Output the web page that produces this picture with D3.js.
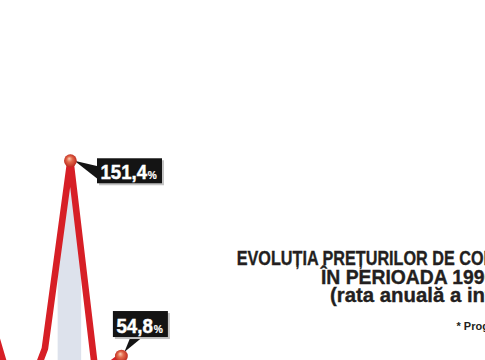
<!DOCTYPE html>
<html>
<head>
<meta charset="utf-8">
<script src="https://cdn.jsdelivr.net/npm/d3@7/dist/d3.min.js"></script>
<style>
  html, body { margin: 0; padding: 0; background: #ffffff; }
  svg { display: block; }
</style>
</head>
<body>
<svg id="chart" width="485" height="360"></svg>
<script>
// ---- data ----
const years  = [1994, 1995, 1996, 1997, 1998, 1999];
const values = [68, 25, 58.5, 151.4, 45, 54.8];          // annual inflation, %
const labelYears = [1997, 1999];
const labelTexts = ["151,4", "54,8"];
const highlightYear = 1997;
const titleLines = [
  "EVOLUȚIA PREȚURILOR DE CONSUM",
  "ÎN PERIOADA 1990-2005",
  "(rata anuală a inflației)"
];
const footnote = "* Prognoză";

// ---- layout ----
const W = 485, H = 360;
const svg = d3.select("#chart");

const x = d3.scaleLinear().domain([1994, 1999]).range([-6.1, 121.4]);
const y = d3.scaleLinear().domain([0, 150]).range([466.8, 163.6]);

const data = years.map((yr, i) => ({ year: yr, value: values[i] }));

const defs = svg.append("defs");
const grad = defs.append("radialGradient").attr("id", "dotGrad")
  .attr("cx", "50%").attr("cy", "50%").attr("r", "55%")
  .attr("fx", "40%").attr("fy", "32%");
grad.append("stop").attr("offset", "0%").attr("stop-color", "#f9cdb4");
grad.append("stop").attr("offset", "40%").attr("stop-color", "#e46a4c");
grad.append("stop").attr("offset", "100%").attr("stop-color", "#b82219");

// highlighted band under the line for 1997
const bandL = x(highlightYear - 0.5), bandR = x(highlightYear + 0.5);
defs.append("clipPath").attr("id", "bandClip")
  .append("rect").attr("x", bandL).attr("y", 0)
  .attr("width", bandR - bandL - 2).attr("height", H);

const area = d3.area().x(d => x(d.year)).y0(H + 50).y1(d => y(d.value));
svg.append("path").datum(data)
  .attr("d", area)
  .attr("fill", "#dde2ec")
  .attr("clip-path", "url(#bandClip)");

// the red line
const line = d3.line().x(d => x(d.year)).y(d => y(d.value));
svg.append("path").datum(data)
  .attr("d", line)
  .attr("fill", "none")
  .attr("stroke", "#d71f26")
  .attr("stroke-width", 6.6)
  .attr("stroke-linejoin", "round");

// label configs (offsets of box relative to point)
const labelCfg = [
  { dx: 26.6, dy: -2.5, w: 65, h: 25, pointer: "right", numW: 46.5 },
  { dx: -8.5, dy: -45, w: 55, h: 26, pointer: "below", numW: 36.5 }
];

labelYears.forEach((yr, i) => {
  const d = data.find(p => p.year === yr);
  const px = x(d.year), py = y(d.value);
  const c = labelCfg[i];
  const bx = px + c.dx, by = py + c.dy;
  const g = svg.append("g");

  // pointer
  let pts;
  if (c.pointer === "right") {
    pts = [[px + 4, py], [bx + 1, by + 8], [bx + 1, by + 21]];
  } else {
    pts = [[px + 3, py - 4], [bx + 18, by + c.h - 1], [bx + 31, by + c.h - 1]];
  }
  g.append("polygon").attr("points", pts.map(p => p.join(",")).join(" "))
    .attr("fill", "#141414");

  // shadow + box
  g.append("rect").attr("x", bx + 2).attr("y", by + 2)
    .attr("width", c.w).attr("height", c.h).attr("fill", "#c4c4c4");
  g.append("rect").attr("x", bx).attr("y", by)
    .attr("width", c.w).attr("height", c.h).attr("fill", "#141414");

  const t = g.append("text")
    .attr("x", 0).attr("y", 0)
    .attr("fill", "#ffffff")
    .attr("stroke", "#ffffff").attr("stroke-width", 0.5)
    .attr("font-family", "'Liberation Sans', Arial, sans-serif")
    .attr("font-weight", "bold");
  t.append("tspan").attr("font-size", 21).text(labelTexts[i]);
  t.append("tspan").attr("font-size", 11.5).attr("dx", 1).attr("stroke-width", 0.2).text("%");
  const nw = t.node().getSubStringLength(0, labelTexts[i].length);
  const s = c.numW / nw;
  t.attr("transform", `translate(${bx + 3.5},${by + c.h - 4.5}) scale(${s},1)`);

  // dot
  svg.append("circle").attr("cx", px).attr("cy", py).attr("r", 6.4)
    .attr("fill", "url(#dotGrad)");
});

// ---- title ----
const titleCfg = [
  { x: 236.7, y: 265, size: 20, prefix: 24, target: 234.5 },
  { x: 321,   y: 284, size: 19.5, prefix: 14, target: 153 },
  { x: 330,   y: 302, size: 20, prefix: 15, target: 137 }
];
titleLines.forEach((txt, i) => {
  const c = titleCfg[i];
  const t = svg.append("text")
    .attr("x", 0).attr("y", 0)
    .attr("fill", "#231f20")
    .attr("stroke", "#231f20").attr("stroke-width", 0.35)
    .attr("font-family", "'Liberation Sans', Arial, sans-serif")
    .attr("font-weight", "bold")
    .attr("font-size", c.size)
    .text(txt);
  const w = t.node().getSubStringLength(0, c.prefix);
  const s = c.target / w;
  t.attr("transform", `translate(${c.x},${c.y}) scale(${s},1)`);
});

svg.append("text")
  .attr("x", 456.5).attr("y", 330)
  .attr("fill", "#231f20")
  .attr("font-family", "'Liberation Sans', Arial, sans-serif")
  .attr("font-weight", "bold")
  .attr("font-size", 11)
  .text(footnote);
</script>
</body>
</html>
